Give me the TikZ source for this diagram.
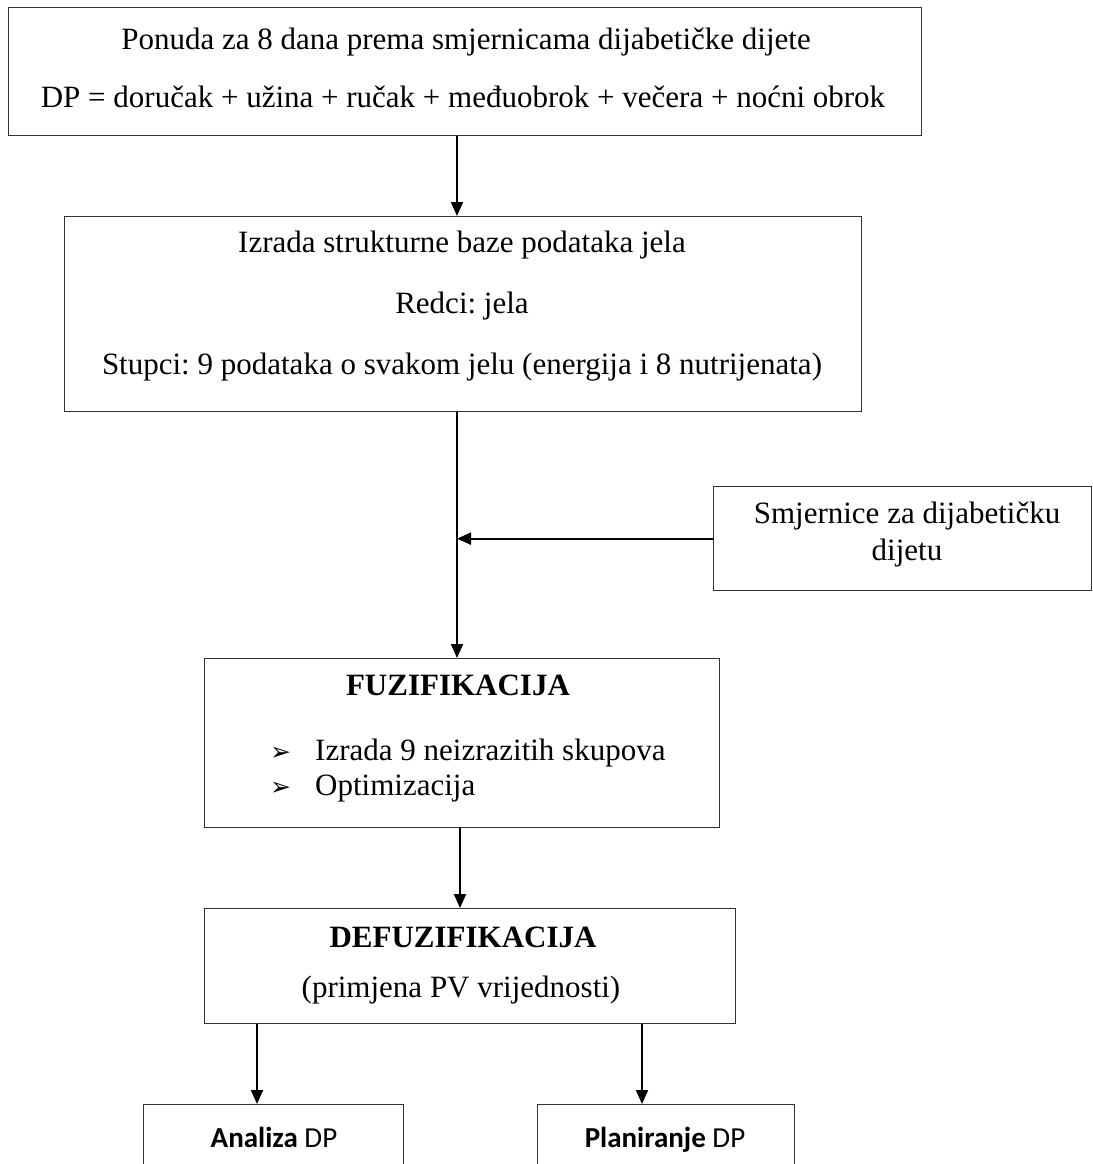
\documentclass[tikz,border=0pt]{standalone}
\usepackage{fontspec}
\setmainfont{Liberation Serif}
\newfontfamily\calib{Carlito}
\newfontfamily\djv{DejaVu Sans}
\usetikzlibrary{arrows.meta}
\frenchspacing
\begin{document}
\begin{tikzpicture}[x=1pt,y=-1pt,
  box/.style={draw=black!80, line width=1.3pt, rectangle, inner sep=0pt, anchor=north west},
  txt/.style={anchor=base, inner sep=0pt, font=\fontsize{31}{36}\selectfont},
  btxt/.style={anchor=base, inner sep=0pt, font=\fontsize{31}{36}\selectfont\bfseries},
  ctxt/.style={anchor=base, inner sep=0pt, font=\calib\fontsize{29}{34}\selectfont},
  bul/.style={anchor=base west, inner sep=0pt, font=\djv\fontsize{25}{25}\selectfont},
  arr/.style={line width=2pt, -{Triangle[length=14pt,width=12pt]}}]
\useasboundingbox (0,0) rectangle (1092,1164);
\clip (0,0) rectangle (1092,1164);
\fill[white] (0,0) rectangle (1092,1164);

% boxes
\node[box, minimum width=913pt, minimum height=128pt] (b1) at (8,7) {};
\node[box, minimum width=797pt, minimum height=195pt] (b2) at (64,216) {};
\node[box, minimum width=378pt, minimum height=104pt] (smj) at (713,486) {};
\node[box, minimum width=515pt, minimum height=169pt] (fuz) at (204,658) {};
\node[box, minimum width=531pt, minimum height=115pt] (def) at (204,908) {};
\node[box, minimum width=260pt, minimum height=120pt] (ana) at (143,1104) {};
\node[box, minimum width=257pt, minimum height=120pt] (pla) at (537,1104) {};

% texts
\node[txt] (t1a) at (466,50) {Ponuda za 8 dana prema smjernicama dijabetičke dijete};
\node[txt] (t1b) at (463,107) {DP = doručak + užina + ručak + međuobrok + večera + noćni obrok};
\node[txt] (t2a) at (462,252) {Izrada strukturne baze podataka jela};
\node[txt] (t2b) at (462,313) {Redci: jela};
\node[txt] (t2c) at (462,374) {Stupci: 9 podataka o svakom jelu (energija i 8 nutrijenata)};
\node[txt] (t3a) at (907,523) {Smjernice za dijabetičku};
\node[txt] (t3b) at (907,560) {dijetu};
\node[btxt] (t4a) at (458,695) {FUZIFIKACIJA};
\node[bul] (bul1) at (270,760) {➢};
\node[bul] (bul2) at (270,795) {➢};
\node[txt, anchor=base west] (t4b) at (315,760) {Izrada 9 neizrazitih skupova};
\node[txt, anchor=base west] (t4c) at (315,795) {Optimizacija};
\node[btxt] (t5a) at (463,947) {DEFUZIFIKACIJA};
\node[txt] (t5b) at (461,997) {(primjena PV vrijednosti)};
\node[ctxt] (t6) at (274,1147) {\textbf{Analiza} DP};
\node[ctxt] (t7) at (665,1147) {\textbf{Planiranje} DP};

% connector columns
\coordinate (m) at (457,0);
\coordinate (m2) at (460,0);
\coordinate (ml) at (257,0);
\coordinate (mr) at (642,0);

\draw[arr] (b1.south -| m) -- (b2.north -| m);
\draw[arr] (b2.south -| m) -- (fuz.north -| m);
\draw[arr] (smj.west) -- (smj.west -| m);
\draw[arr] (fuz.south -| m2) -- (def.north -| m2);
\draw[arr] (def.south -| ml) -- (ana.north -| ml);
\draw[arr] (def.south -| mr) -- (pla.north -| mr);
\end{tikzpicture}
\end{document}
